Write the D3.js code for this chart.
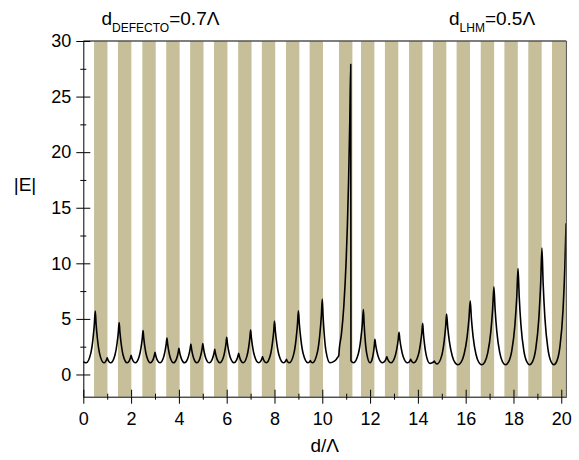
<!DOCTYPE html>
<html><head><meta charset="utf-8">
<script src="https://cdn.jsdelivr.net/npm/d3@7"></script>
<style>html,body{margin:0;padding:0;background:#fff}svg{display:block}</style>
</head><body>
<script>
// LHM layer positions (d/Λ)
const barStart=[0.45,1.45,2.47,3.47,4.47,5.47,6.48,7.47,8.48,9.47,10.70,11.62,12.62,13.63,14.63,15.62,16.63,17.62,18.62,19.61];
const barEnd  =[1.01,2.01,3.03,4.03,5.03,6.03,7.04,8.03,9.04,10.03,11.26,12.18,13.18,14.19,15.19,16.18,17.19,18.18,19.18,20.17];
const xTicks=[0,2,4,6,8,10,12,14,16,18,20];
const xMinor=[1,3,5,7,9,11,13,15,17,19];
const yTicks=[0,5,10,15,20,25,30];
const yMinor=[2.5,7.5,12.5,17.5,22.5,27.5];
// |E| profile
const dPos=[0,0.06,0.12,0.31,0.405,0.462,0.5,
0.536,0.591,0.682,0.863,0.932,0.966,0.986,1.0,
1.015,1.037,1.073,1.146,1.323,1.412,1.465,1.5,
1.533,1.584,1.667,1.834,1.917,1.959,1.983,2.0,
2.018,2.044,2.088,2.175,2.338,2.419,2.468,2.5,
2.531,2.577,2.654,2.807,2.904,2.952,2.981,3.0,
3.021,3.051,3.103,3.205,3.353,3.426,3.471,3.5,
3.528,3.57,3.639,3.778,3.889,3.945,3.978,4.0,
4.024,4.059,4.118,4.236,4.368,4.434,4.474,4.5,
4.525,4.562,4.625,4.749,4.875,4.937,4.975,5.0,
5.027,5.067,5.134,5.269,5.385,5.442,5.477,5.5,
5.522,5.554,5.609,5.717,5.859,5.929,5.972,6.0,
6.03,6.076,6.151,6.302,6.401,6.45,6.48,6.5,
6.519,6.547,6.594,6.687,6.844,6.922,6.969,7.0,
7.034,7.084,7.168,7.336,7.418,7.459,7.484,7.5,
7.516,7.539,7.578,7.655,7.828,7.914,7.966,8.0,
8.037,8.093,8.187,8.373,8.437,8.468,8.487,8.5,
8.512,8.53,8.56,8.62,8.81,8.905,8.962,9.0,
9.04,9.1,9.199,9.398,9.449,9.474,9.49,9.5,
9.51,9.524,9.548,9.596,9.798,9.899,9.96,10.0,
10.032,10.08,10.16,10.32,10.505,10.598,10.653,10.69,10.71,
10.8,10.9,11.0,11.05,11.1,11.15,11.19,
11.2,
11.21,11.226,11.252,11.305,11.513,11.616,11.679,11.72,
11.748,11.789,11.858,11.997,12.099,12.149,12.18,12.2,
12.232,12.28,12.361,12.521,12.611,12.655,12.682,12.7,
12.717,12.743,12.786,12.871,13.041,13.125,13.176,13.21,
13.245,13.299,13.387,13.564,13.632,13.666,13.686,13.7,
13.713,13.732,13.765,13.829,14.015,14.107,14.163,14.2,
14.23,14.275,14.35,14.5,14.6,14.66,14.69,
14.702,14.719,14.748,14.805,15.003,15.101,15.16,15.2,
15.248,15.319,15.438,15.557,15.676,15.805,15.933,16.062,16.139,16.19,
16.238,16.31,16.43,16.55,16.67,16.798,16.925,17.053,17.129,17.18,
17.229,17.302,17.425,17.547,17.669,17.799,17.93,18.06,18.138,18.19,
18.239,18.312,18.433,18.555,18.676,18.805,18.933,19.062,19.139,19.19,
19.24,19.315,19.44,19.565,19.69,19.818,19.945,20.073,20.149,20.2];
const absE=[1.15,1.07,1.05,1.88,3.21,4.52,5.7,
4.52,3.21,1.88,1.05,1.157,1.296,1.41,1.5,
1.41,1.296,1.157,1.05,1.735,2.785,3.79,4.68,
3.79,2.785,1.735,1.05,1.206,1.412,1.58,1.72,
1.58,1.412,1.206,1.05,1.62,2.466,3.25,3.94,
3.25,2.466,1.62,1.05,1.265,1.554,1.80,2.0,
1.80,1.554,1.265,1.05,1.51,2.17,2.77,3.28,
2.77,2.17,1.51,1.05,1.337,1.73,2.07,2.35,
2.07,1.73,1.337,1.05,1.41,1.914,2.37,2.74,
2.37,1.914,1.41,1.05,1.42,1.935,2.40,2.78,
2.40,1.935,1.42,1.05,1.318,1.683,2.0,2.26,
2.0,1.683,1.318,1.05,1.518,2.19,2.81,3.34,
2.81,2.19,1.518,1.05,1.245,1.505,1.724,1.9,
1.724,1.505,1.245,1.05,1.63,2.49,3.30,4.0,
3.30,2.49,1.63,1.05,1.18,1.35,1.49,1.6,
1.49,1.35,1.18,1.05,1.75,2.84,3.87,4.8,
3.87,2.84,1.75,1.05,1.125,1.22,1.30,1.36,
1.30,1.22,1.125,1.05,1.88,3.22,4.54,5.73,
4.54,3.22,1.88,1.05,1.098,1.16,1.21,1.25,
1.21,1.16,1.098,1.05,2.03,3.64,5.27,6.78,
5.27,3.64,2.03,1.05,1.20,1.40,1.57,1.7,2.26,
3.62,6.12,10.33,13.4,17.4,22.7,27.9,
1.25,
1.21,1.16,1.098,1.05,1.906,3.27,4.63,5.85,
4.63,3.27,1.906,1.05,1.486,2.11,2.68,3.16,
2.68,2.11,1.486,1.05,1.18,1.35,1.49,1.6,
1.49,1.35,1.18,1.05,1.595,2.40,3.145,3.79,
3.145,2.40,1.595,1.05,1.125,1.22,1.30,1.36,
1.30,1.22,1.125,1.05,1.72,2.75,3.73,4.6,
3.73,2.75,1.72,1.0,1.06,1.13,1.2,
1.15,1.088,1.01,0.95,1.742,3.014,4.28,5.43,
4.24,2.95,1.666,1.059,0.88,1.09,1.818,3.41,5.07,6.63,
5.07,3.41,1.818,1.09,0.88,1.119,1.963,3.872,5.92,7.88,
5.92,3.872,1.963,1.119,0.88,1.153,2.14,4.453,7.02,9.53,
7.02,4.453,2.14,1.153,0.88,1.188,2.323,5.08,8.24,11.38,
8.24,5.08,2.323,1.188,0.88,1.225,2.524,5.80,9.66,13.6];

const W=579,H=460;
const FONT="'Liberation Sans', Arial, sans-serif";
const svg=d3.select("body").append("svg").attr("width",W).attr("height",H);
const x=d3.scaleLinear().domain([0,20.21]).range([83.3,566.3]);
const y=d3.scaleLinear().domain([-2,30]).range([396.7,41]);

// layers
svg.append("g").selectAll("rect").data(barStart).join("rect")
  .attr("x",d=>x(d)).attr("width",(d,i)=>x(barEnd[i])-x(d))
  .attr("y",y(30)).attr("height",y(-2)-y(30))
  .attr("fill","#c6bf99");

// curve
const line=d3.line().x(i=>x(dPos[i])).y(i=>y(absE[i])).curve(d3.curveMonotoneX);
svg.append("path").attr("d",line(d3.range(dPos.length)))
  .attr("fill","none").attr("stroke","#000").attr("stroke-width",1.6).attr("stroke-linejoin","round");

// frame top & right
svg.append("line").attr("x1",x(0)).attr("x2",x(20.21)).attr("y1",y(30)).attr("y2",y(30)).attr("stroke","#555").attr("stroke-width",1.3);
svg.append("line").attr("x1",x(20.21)).attr("x2",x(20.21)).attr("y1",y(30)).attr("y2",y(-2)).attr("stroke","#555").attr("stroke-width",1.3);

function styleAxis(g,size){
  g.attr("font-family",FONT).attr("font-size",size);
  g.selectAll("line").attr("stroke","#000");
  g.selectAll(".domain").attr("stroke","#000");
  g.selectAll("text").attr("fill","#000");
}
// bottom axis
const gx=svg.append("g").attr("transform",`translate(0,${y(-2)})`)
  .call(d3.axisBottom(x).tickValues(xTicks).tickSizeInner(7).tickSizeOuter(0).tickPadding(8.5).tickFormat(d3.format("d")));
styleAxis(gx,18);
svg.append("g").attr("transform",`translate(0,${y(-2)})`)
  .call(d3.axisTop(x).tickValues(xTicks).tickSizeInner(7).tickSizeOuter(0).tickFormat(""))
  .call(g=>{g.select(".domain").remove();g.selectAll("line").attr("stroke","#000");});
svg.append("g").attr("transform",`translate(0,${y(-2)})`)
  .call(d3.axisBottom(x).tickValues(xMinor).tickSizeInner(3).tickSizeOuter(0).tickFormat(""))
  .call(g=>{g.select(".domain").remove();g.selectAll("line").attr("stroke","#000");});
svg.append("g").attr("transform",`translate(0,${y(-2)})`)
  .call(d3.axisTop(x).tickValues(xMinor).tickSizeInner(3).tickSizeOuter(0).tickFormat(""))
  .call(g=>{g.select(".domain").remove();g.selectAll("line").attr("stroke","#000");});

// left axis
const gy=svg.append("g").attr("transform",`translate(${x(0)},0)`)
  .call(d3.axisLeft(y).tickValues(yTicks).tickSizeInner(7).tickSizeOuter(0).tickPadding(5).tickFormat(d3.format("d")));
styleAxis(gy,18);
svg.append("g").attr("transform",`translate(${x(0)},0)`)
  .call(d3.axisRight(y).tickValues(yTicks).tickSizeInner(7).tickSizeOuter(0).tickFormat(""))
  .call(g=>{g.select(".domain").remove();g.selectAll("line").attr("stroke","#000");});
svg.append("g").attr("transform",`translate(${x(0)},0)`)
  .call(d3.axisLeft(y).tickValues(yMinor).tickSizeInner(3).tickSizeOuter(0).tickFormat(""))
  .call(g=>{g.select(".domain").remove();g.selectAll("line").attr("stroke","#000");});
svg.append("g").attr("transform",`translate(${x(0)},0)`)
  .call(d3.axisRight(y).tickValues(yMinor).tickSizeInner(3).tickSizeOuter(0).tickFormat(""))
  .call(g=>{g.select(".domain").remove();g.selectAll("line").attr("stroke","#000");});

// axis titles
svg.append("text").attr("x",25).attr("y",191).attr("text-anchor","middle")
  .attr("font-family",FONT).attr("font-size",19).text("|E|");
svg.append("text").attr("x",(x(0)+x(20.21))/2).attr("y",452).attr("text-anchor","middle")
  .attr("font-family",FONT).attr("font-size",19).text("d/Λ");

// annotations
function annot(x0,sub,rest){
  const t=svg.append("text").attr("x",x0).attr("y",25).attr("font-family",FONT).attr("font-size",19);
  t.append("tspan").text("d");
  t.append("tspan").attr("dy",7).attr("font-size",12).text(sub);
  t.append("tspan").attr("dy",-7).text(rest);
}
annot(101.5,"DEFECTO","=0.7Λ");
annot(449,"LHM","=0.5Λ");
</script>
</body></html>
